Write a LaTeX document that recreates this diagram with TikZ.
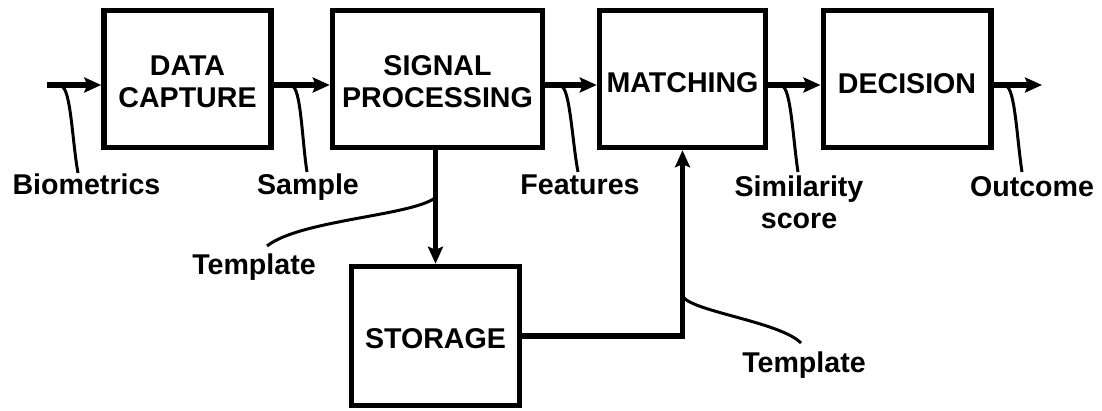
\documentclass[tikz,border=0pt]{standalone}
\usepackage{fontspec}
\setmainfont{Liberation Sans}
\usetikzlibrary{arrows.meta}
\newcommand\lblfont{\fontsize{28.6}{32}\selectfont\bfseries}
\newcommand\lift[1]{\rule{0pt}{#1}}
\begin{document}
\begin{tikzpicture}[x=1pt,y=-1pt,
  box/.style={draw, line width=5.5pt, minimum width=#1, minimum height=137pt, align=center, inner sep=0pt, font=\lblfont},
  flow/.style={line width=5.5pt, line join=miter, -{Stealth[length=17pt,width=15pt,inset=3pt]}},
  lab/.style={font=\lblfont, anchor=base, inner sep=0pt},
  callout/.style={line width=3pt}]
\useasboundingbox (0,0) rectangle (1102,411);
% boxes
\node[box=167pt] (dc) at (187.5,79) {\lift{24.5pt}DATA\\CAPTURE};
\node[box=210pt] (sp) at (437.5,79) {\lift{24.5pt}SIGNAL\\PROCESSING};
\node[box=166pt] (mt) at (682.5,79) {\lift{26.5pt}MATCHING};
\node[box=167.5pt] (dec) at (907,79) {\lift{28.5pt}DECISION};
\node[box=168pt, minimum height=139pt] (st) at (435.5,336) {\lift{24.5pt}STORAGE};
% flow
\coordinate (in) at (47,85);
\coordinate (out) at (1042,85);
\draw[flow] (in) -- (in -| dc.west);
\draw[flow] (dc.east |- in) -- (sp.west |- in);
\draw[flow] (sp.east |- in) -- (mt.west |- in);
\draw[flow] (mt.east |- in) -- (dec.west |- in);
\draw[flow] (dec.east |- in) -- (out);
\draw[flow] (st.north |- sp.south) -- (st.north);
\draw[flow] (st.east) -- (st.east -| mt.south) -- (mt.south);
% labels
\node[lab] (bio) at (86.5,195) {Biometrics};
\node[lab] (sam) at (308,195) {Sample};
\node[lab] (fea) at (580,195) {Features};
\node[font=\lblfont, anchor=north, inner sep=0pt, align=center] (sim) at (799,176) {Similarity\\score};
\node[lab] (outc) at (1032,197) {Outcome};
\node[lab] (tp1) at (254,275) {Template};
\node[lab] (tp2) at (804,372) {Template};
% callout lines
\coordinate (b0) at (61,86);   \coordinate (b1) at (78,173);
\coordinate (s0) at (292,86);  \coordinate (s1) at (307,172);
\coordinate (f0) at (561,86);  \coordinate (f1) at (578,172);
\coordinate (m0) at (782,86);  \coordinate (m1) at (798,172);
\coordinate (o0) at (1006,86); \coordinate (o1) at (1022,172);
\coordinate (t0) at (435,198); \coordinate (t1) at (267,246);
\coordinate (u0) at (683,297); \coordinate (u1) at (801,343);
\draw[callout] (b0) .. controls (71,88) and (72,140) .. (b1);
\draw[callout] (s0) .. controls (301,88) and (302,140) .. (s1);
\draw[callout] (f0) .. controls (570,88) and (572,140) .. (f1);
\draw[callout] (m0) .. controls (791,88) and (793,140) .. (m1);
\draw[callout] (o0) .. controls (1015,88) and (1017,140) .. (o1);
\draw[callout] (t0) .. controls (410,216) and (300,220) .. (t1);
\draw[callout] (u0) .. controls (695,312) and (780,322) .. (u1);
\end{tikzpicture}
\end{document}
